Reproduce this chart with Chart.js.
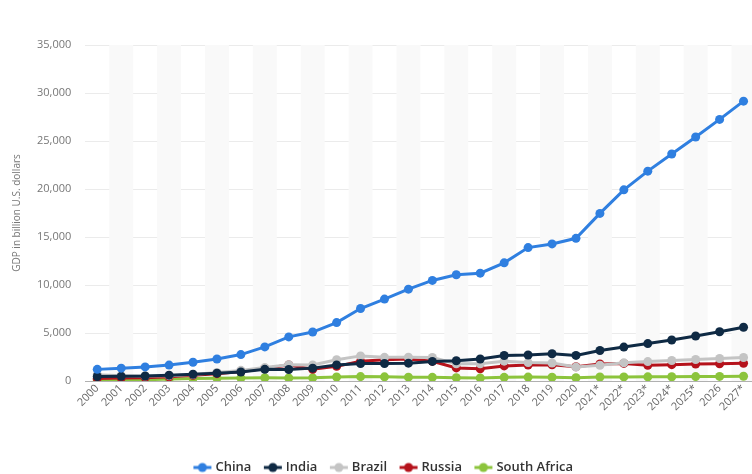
<!DOCTYPE html>
<html><head><meta charset="utf-8">
<script src="https://cdn.jsdelivr.net/npm/chart.js@4"></script>
<style>html,body{margin:0;padding:0;background:#fff;overflow:hidden;width:752px;height:474px}
#wrap{width:760px;height:484px;position:relative}</style></head>
<body><div id="wrap"><canvas id="c"></canvas></div>
<script>
const years = ["2000","2001","2002","2003","2004","2005","2006","2007","2008","2009","2010","2011","2012","2013","2014","2015","2016","2017","2018","2019","2020","2021*","2022*","2023*","2024*","2025*","2026","2027*"];
const china = [1211,1339,1471,1660,1955,2286,2752,3550,4594,5102,6087,7552,8532,9570,10476,11062,11233,12310,13895,14280,14862,17458,19912,21860,23640,25420,27250,29150];
const india = [468,485,515,608,709,820,940,1216,1198,1341,1676,1823,1827,1857,2039,2104,2295,2651,2703,2836,2668,3173,3535,3897,4268,4682,5135,5604];
const brazil = [655,559,509,558,669,892,1107,1397,1696,1667,2209,2616,2465,2473,2456,1802,1796,2064,1917,1873,1449,1645,1894,2020,2130,2240,2340,2450];
const russia = [260,307,345,430,591,764,990,1300,1661,1223,1525,2046,2208,2292,2059,1363,1277,1574,1657,1693,1489,1776,1830,1640,1700,1760,1800,1850];
const southAfrica = [152,135,129,197,256,288,303,333,316,330,417,458,434,401,381,346,323,381,405,389,338,419,426,430,445,460,478,496];
const yTicks = [0,5000,10000,15000,20000,25000,30000,35000];

const seriesNames = ["China","India","Brazil","Russia","South Africa"];
const seriesData = [china,india,brazil,russia,southAfrica];
const colors = ["#2f7fe0","#0f2a44","#c4c4c4","#b5121b","#8cc43c"];

function legendIcon(color){
  const cv=document.createElement('canvas');cv.width=20;cv.height=12;
  const g=cv.getContext('2d');
  g.strokeStyle=color;g.lineWidth=3;g.beginPath();g.moveTo(1,6);g.lineTo(19,6);g.stroke();
  g.fillStyle=color;g.beginPath();g.arc(10,6,4.5,0,Math.PI*2);g.fill();
  return cv;
}
const icons = colors.map(legendIcon);

const stripes = {
  id:'stripes',
  beforeDatasetsDraw(chart){
    const {ctx,chartArea,scales:{x}}=chart;
    const w = x.getPixelForValue(1)-x.getPixelForValue(0);
    ctx.save();
    ctx.fillStyle='#f9f9f9';
    for(let i=1;i<years.length;i+=2){
      const cx=x.getPixelForValue(i);
      ctx.fillRect(cx-w/2,chartArea.top,w,chartArea.bottom-chartArea.top);
    }
    ctx.restore();
  }
};

new Chart(document.getElementById('c'),{
  type:'line',
  data:{labels:years,datasets:seriesNames.map((n,i)=>({
    label:n,data:seriesData[i],borderColor:colors[i],backgroundColor:colors[i],
    borderWidth:3,pointRadius:4.5,pointHoverRadius:4.5,pointBackgroundColor:colors[i],pointBorderWidth:0,tension:0
  }))},
  plugins:[stripes],
  options:{
    responsive:true,maintainAspectRatio:false,animation:false,
    layout:{padding:{top:45,right:2,left:11,bottom:0}},
    plugins:{
      tooltip:{enabled:false},
      legend:{position:'bottom',labels:{
        font:{family:"'Open Sans', sans-serif",size:13,weight:'600'},color:'#333',
        usePointStyle:true,padding:15,
        generateLabels(chart){
          return chart.data.datasets.map((d,i)=>({text:d.label,pointStyle:icons[i],fillStyle:colors[i],strokeStyle:colors[i],lineWidth:0,hidden:false,datasetIndex:i,fontColor:'#333'}));
        }
      }}
    },
    scales:{
      x:{offset:true,grid:{display:false,drawTicks:false},border:{color:'#b0b0b0',width:1},
        afterFit(s){s.height=65;},
        ticks:{minRotation:45,maxRotation:45,autoSkip:false,padding:1,color:'#666',font:{family:"'Open Sans', sans-serif",size:11}}},
      y:{min:0,max:35000,afterBuildTicks(s){s.ticks=yTicks.map(v=>({value:v}));},
        grid:{color:'#ebebeb',drawTicks:false},border:{display:false},
        title:{display:true,text:'GDP in billion U.S. dollars',color:'#777',font:{family:"'Open Sans', sans-serif",size:10},padding:{top:0,bottom:0}},
        ticks:{padding:14,color:'#777',font:{family:"'Open Sans', sans-serif",size:11},callback:v=>v.toLocaleString('en-US')}}
    }
  }
});
</script></body></html>
